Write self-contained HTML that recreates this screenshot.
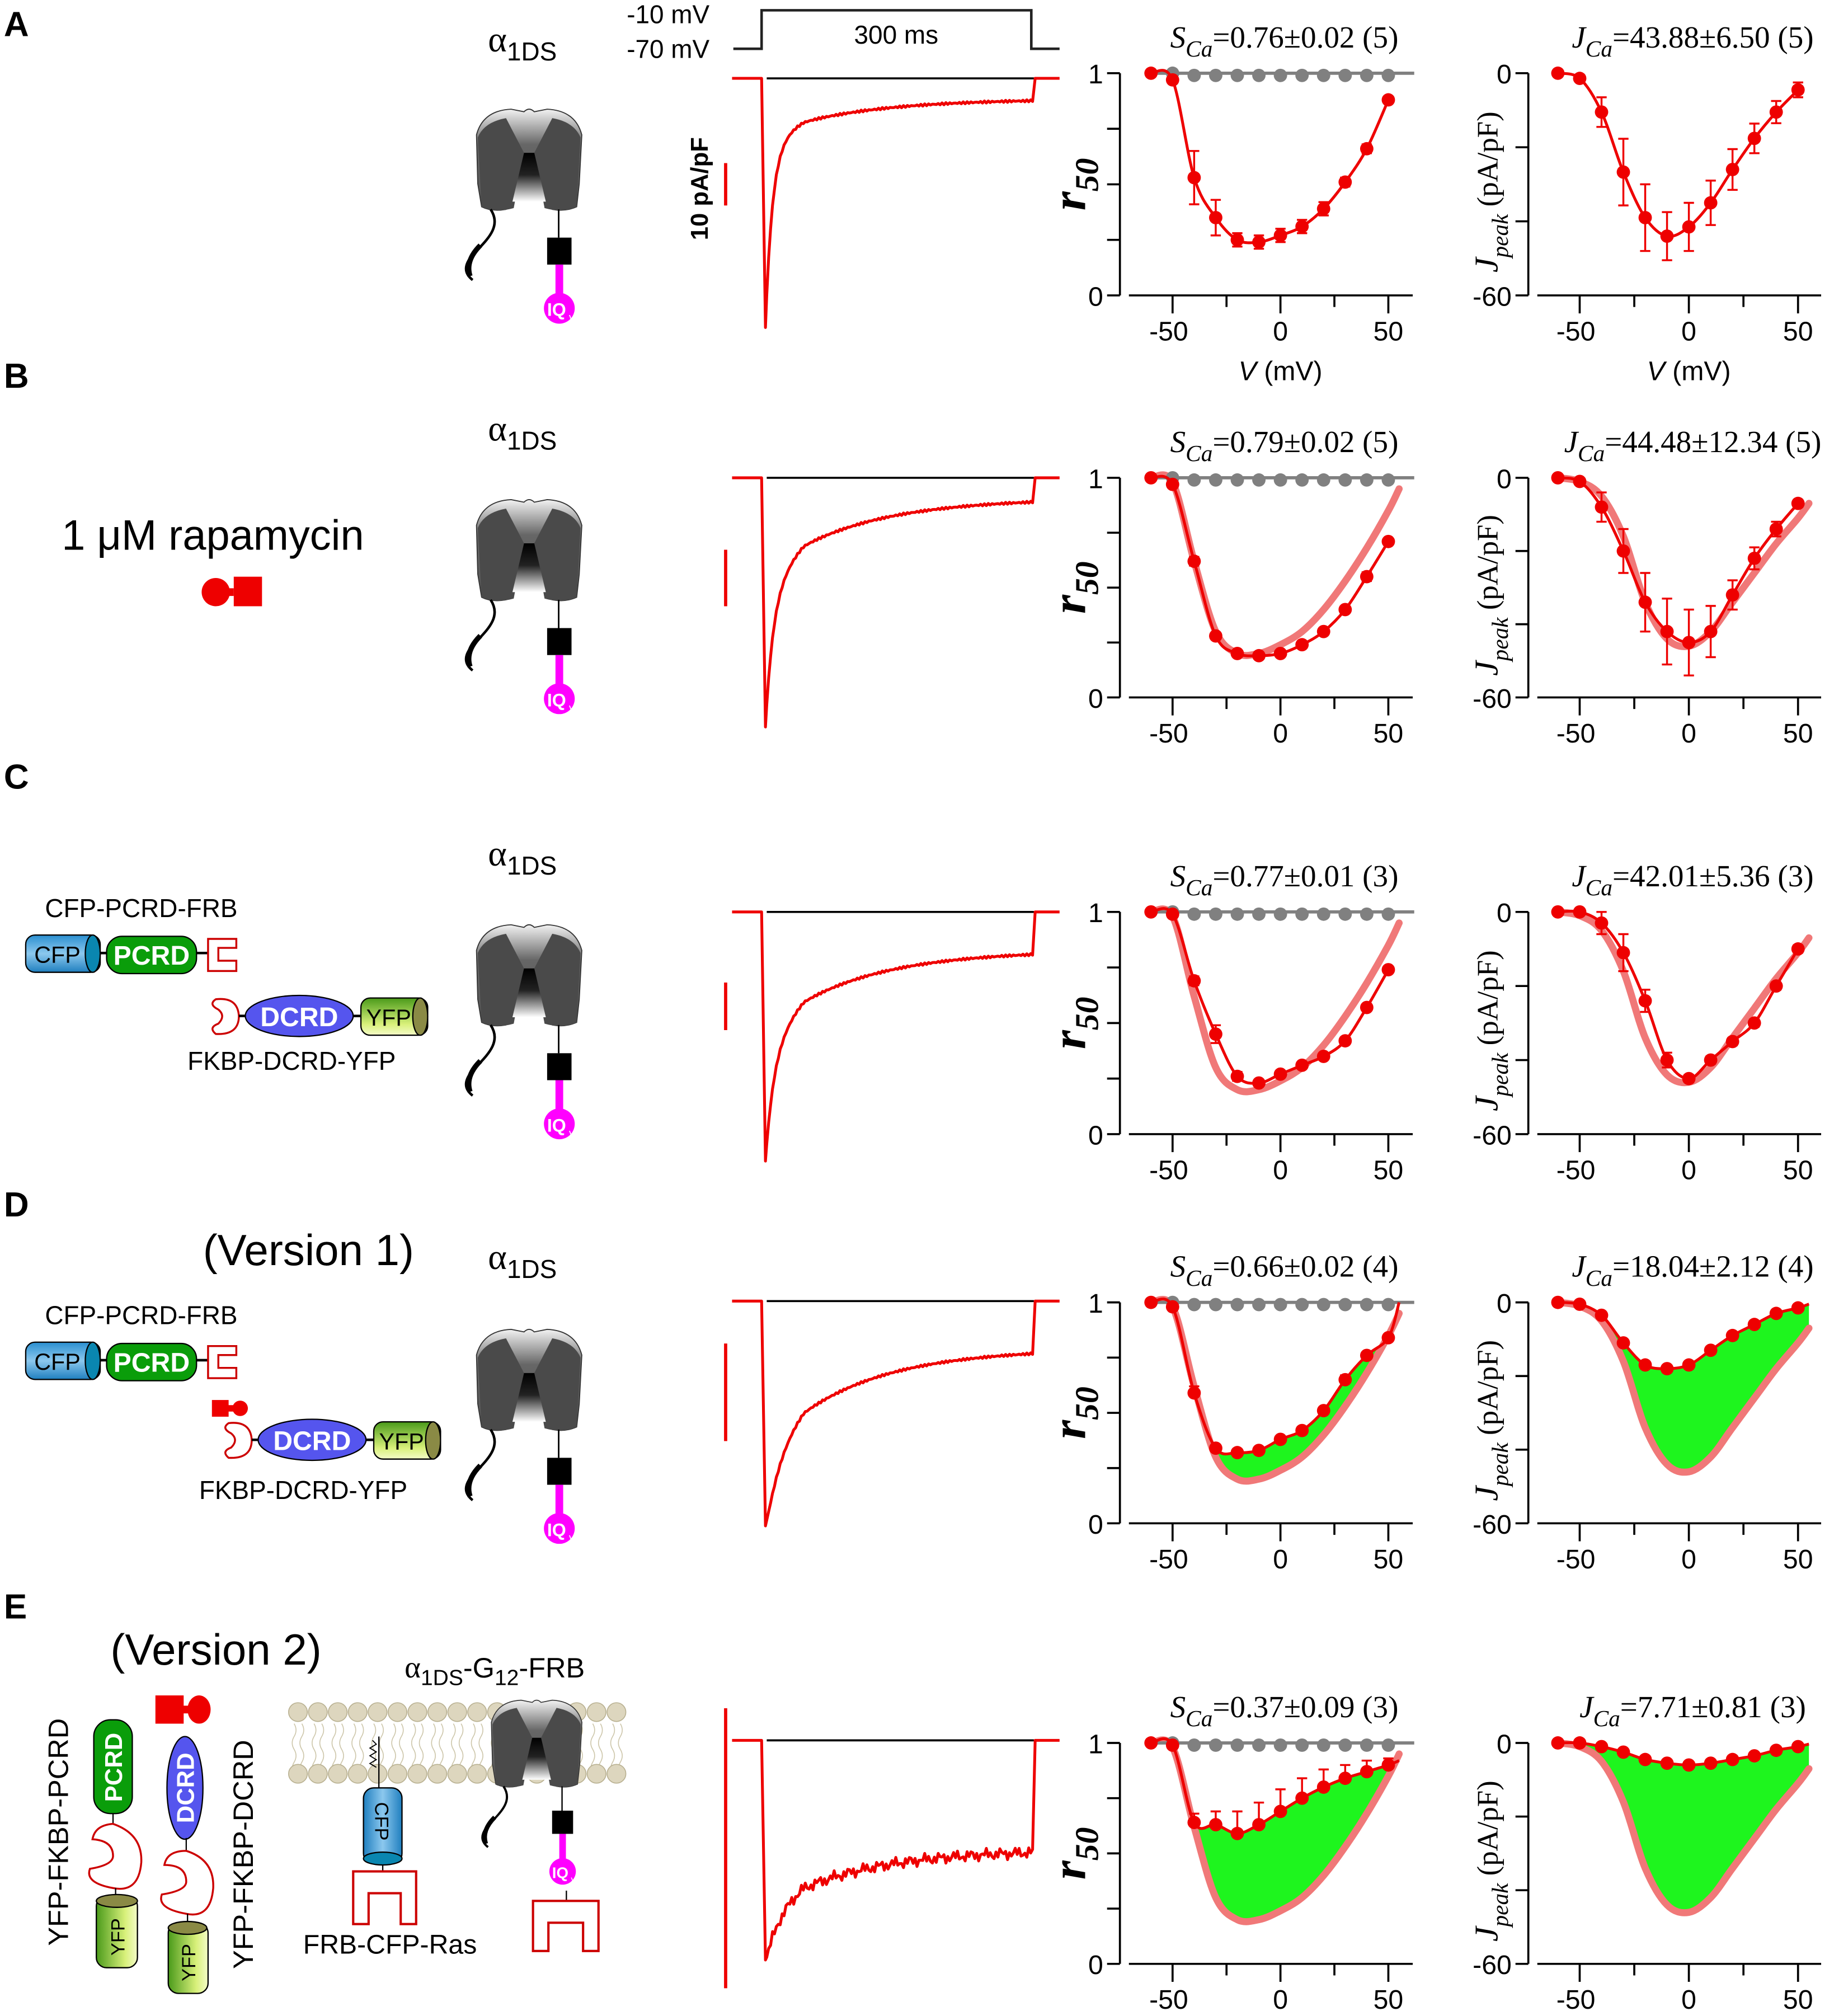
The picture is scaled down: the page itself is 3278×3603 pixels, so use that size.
<!DOCTYPE html>
<html><head><meta charset="utf-8">
<style>
html,body{margin:0;padding:0;background:#fff;}
svg{display:block;}
text{font-family:"Liberation Sans",sans-serif;}
.serif{font-family:"Liberation Serif",serif;}
</style></head>
<body>
<svg id="fig" xmlns="http://www.w3.org/2000/svg" width="3278" height="3603" viewBox="0 0 1428 1569.6">
<defs>
<linearGradient id="chTop" x1="0" y1="0" x2="0" y2="1"><stop offset="0" stop-color="#f2f2f2"/><stop offset="0.35" stop-color="#666"/><stop offset="1" stop-color="#555"/></linearGradient>
<linearGradient id="pore" x1="0" y1="0" x2="0" y2="1"><stop offset="0" stop-color="#000"/><stop offset="0.45" stop-color="#222"/><stop offset="1" stop-color="#fff"/></linearGradient>
<linearGradient id="cfpG" x1="0" y1="0" x2="0" y2="1"><stop offset="0" stop-color="#2a8fd0"/><stop offset="0.5" stop-color="#8cc8ee"/><stop offset="1" stop-color="#1f7fbf"/></linearGradient>
<linearGradient id="yfpG" x1="0" y1="0" x2="0" y2="1"><stop offset="0" stop-color="#4a9a1a"/><stop offset="0.7" stop-color="#d8f07a"/><stop offset="1" stop-color="#f4fbc8"/></linearGradient>
<linearGradient id="yfpGv" x1="0" y1="0" x2="1" y2="0"><stop offset="0" stop-color="#4a9a1a"/><stop offset="0.7" stop-color="#d8f07a"/><stop offset="1" stop-color="#f4fbc8"/></linearGradient>
<linearGradient id="cfpGv" x1="0" y1="0" x2="1" y2="0"><stop offset="0" stop-color="#1f7fbf"/><stop offset="0.5" stop-color="#8cc8ee"/><stop offset="1" stop-color="#1f7fbf"/></linearGradient>
</defs>
<g id="root"></g>
</svg>
<script>
// ---------------- DATA ----------------
const volts = [-60,-50,-40,-30,-20,-10,0,10,20,30,40,50];
const rowNames = ['A','B','C','D','E'];
const r50A = [1,0.97,0.53,0.35,0.25,0.24,0.27,0.31,0.39,0.51,0.66,0.88];
const r50B = [1,0.97,0.62,0.28,0.2,0.19,0.2,0.24,0.3,0.4,0.55,0.71];
const r50C = [1,0.99,0.69,0.45,0.26,0.23,0.27,0.31,0.35,0.42,0.57,0.74];
const r50D = [1,0.98,0.59,0.34,0.32,0.33,0.38,0.42,0.51,0.65,0.76,0.84];
const r50E = [1,0.99,0.64,0.63,0.59,0.63,0.69,0.75,0.8,0.84,0.87,0.9];
const r50ErrA = [0,0.01,0.12,0.08,0.03,0.03,0.03,0.03,0.03,0.02,0.02,0.01];
const r50ErrB = [0,0.01,0.02,0.01,0.01,0.01,0.01,0.01,0.01,0.01,0.02,0.01];
const r50ErrC = [0,0.01,0.02,0.04,0.02,0.01,0.01,0.01,0.01,0.01,0.01,0.01];
const r50ErrD = [0,0.01,0.03,0.01,0.01,0.01,0.01,0.01,0.01,0.02,0.01,0.01];
const r50ErrE = [0,0.01,0.04,0.06,0.1,0.1,0.1,0.09,0.08,0.06,0.05,0.03];
const grayR50 = [1,1,0.99,0.99,0.99,0.99,0.99,0.99,0.99,0.99,0.99,0.99];
const jA = [0,-1.4,-10.5,-26.7,-39,-44,-41.5,-35,-26,-17.6,-10.5,-4.5];
const jB = [0,-1,-8,-20,-34,-42,-45,-42,-32,-22,-14,-7];
const jC = [0,0,-3,-11,-24,-40,-45,-40,-35,-30,-20,-10];
const jD = [0,-0.5,-3.5,-11,-17,-18,-17,-13,-9,-6,-3,-1.5];
const jE = [0,0,-1,-2.5,-4.5,-5.5,-6,-5.5,-4.5,-3.5,-2,-1];
const jErrA = [0,0.5,4,9,9,6.5,6.5,6,5.5,4,3,2];
const jErrB = [0,0.5,4,6,8,9,9,7,4,3,2,1];
const jErrC = [0,0.5,3,5,3,2,1,1,1,1,1,1];
const jErrD = [0,0.5,0.5,0.5,1,1,1,1,1,0.5,0.5,0.5];
const jErrE = [0,0,0.3,0.5,0.5,0.5,0.5,0.5,0.5,0.5,0.5,0.5];
const refVolts = [-60,-50,-40,-30,-20,-10,0,10,20,30,40,50,55];
const refR50 = [1,0.98,0.62,0.3,0.2,0.2,0.24,0.3,0.4,0.53,0.68,0.85,0.95];
const refJ = [0,-1,-5,-16,-34,-44,-46,-42,-34,-26,-18,-11,-7];
const titlesS = ['0.76±0.02 (5)','0.79±0.02 (5)','0.77±0.01 (3)','0.66±0.02 (4)','0.37±0.09 (3)'];
const titlesJ = ['43.88±6.50 (5)','44.48±12.34 (5)','42.01±5.36 (3)','18.04±2.12 (4)','7.71±0.81 (3)'];
const xTickLabels = ['-50','0','50'];
const xTicks = [-50,-25,0,25,50];
// ------------------------------------------------
const NS='http://www.w3.org/2000/svg';
const root=document.getElementById('root');
function el(tag,attrs,parent,txt){const e=document.createElementNS(NS,tag);for(const k in attrs)e.setAttribute(k,attrs[k]);if(txt!==undefined)e.textContent=txt;(parent||root).appendChild(e);return e;}
function smooth(pts){
  let d='M'+pts[0][0].toFixed(1)+','+pts[0][1].toFixed(1);
  for(let i=0;i<pts.length-1;i++){const p0=pts[Math.max(0,i-1)],p1=pts[i],p2=pts[i+1],p3=pts[Math.min(pts.length-1,i+2)];
    const c1=[p1[0]+(p2[0]-p0[0])/6,p1[1]+(p2[1]-p0[1])/6],c2=[p2[0]-(p3[0]-p1[0])/6,p2[1]-(p3[1]-p1[1])/6];
    d+=' C'+c1[0].toFixed(1)+','+c1[1].toFixed(1)+' '+c2[0].toFixed(1)+','+c2[1].toFixed(1)+' '+p2[0].toFixed(1)+','+p2[1].toFixed(1);}
  return d;}
function sampleSmooth(pts,n){const out=[];for(let i=0;i<pts.length-1;i++){const p0=pts[Math.max(0,i-1)],p1=pts[i],p2=pts[i+1],p3=pts[Math.min(pts.length-1,i+2)];
  for(let k=0;k<n;k++){const t=k/n,t2=t*t,t3=t2*t;out.push([0,1].map(j=>0.5*((2*p1[j])+(-p0[j]+p2[j])*t+(2*p0[j]-5*p1[j]+4*p2[j]-p3[j])*t2+(-p0[j]+3*p1[j]-3*p2[j]+p3[j])*t3)));}}
  out.push(pts[pts.length-1]);return out;}

const rowTops=[57,372,710,1014,1357], rowBots=[230,543,883,1186,1529];
const r50s=[r50A,r50B,r50C,r50D,r50E], r50Errs=[r50ErrA,r50ErrB,r50ErrC,r50ErrD,r50ErrE];
const js=[jA,jB,jC,jD,jE], jErrs=[jErrA,jErrB,jErrC,jErrD,jErrE];
const extR=[null,null,null,[55,1.0],[55,0.92]];
const extJ=[null,null,null,[55,0],[55,0]];

function xR(v){return 913+(v+50)*1.68;}
function xJ(v){return 1230+(v+50)*1.7;}

function drawChart(i,kind){
  const top=rowTops[i],bot=rowBots[i];
  const g=el('g',{});
  const isR=kind==='r';
  
  
  const X=isR?xR:xJ, axX=isR?872:1190;
  const Y=isR?(r=>bot-r*(bot-top)):(j=>top+(-j)/60*(bot-top));
  const ya=el('line',{x1:axX,y1:top,x2:axX,y2:bot,stroke:'#000','stroke-width':1.6},g);
  
  const nT=isR?4:3;
  for(let k=0;k<=nT;k++){const yy=top+k*(bot-top)/nT;el('line',{x1:axX-10,y1:yy,x2:axX,y2:yy,stroke:'#000','stroke-width':1.6},g);}
  const yl1=el('text',{x:axX-13,y:top+8,'font-size':21,'text-anchor':'end'},g,isR?'1':'0');
  
  const yl0=el('text',{x:axX-13,y:bot+8,'font-size':21,'text-anchor':'end'},g,isR?'0':'-60');
  
  const xa=el('line',{x1:axX+7,y1:bot,x2:axX+228,y2:bot,stroke:'#000','stroke-width':1.6},g);
  
  xTicks.forEach(t=>{const L=(t%50===0)?14:9;el('line',{x1:X(t),y1:bot,x2:X(t),y2:bot+L,stroke:'#000','stroke-width':1.6},g);});
  xTickLabels.forEach(s=>{const t=el('text',{x:X(+s)-(s==='-50'?3:0),y:bot+35,'font-size':21,'text-anchor':'middle'},g,s);
    });
  if(i===0){const xt=el('text',{x:X(0),y:bot+66,'font-size':21,'text-anchor':'middle'},g);
    
    el('tspan',{'font-style':'italic'},xt,'V');el('tspan',{},xt,' (mV)');}
  const cy=(top+bot)/2;
  if(isR){const yt=el('text',{x:0,y:0,'font-size':38,'font-style':'italic','font-weight':'bold','class':'serif',transform:`translate(845,${cy}) rotate(-90)`,'text-anchor':'middle'},g);
    
    el('tspan',{},yt,'r');el('tspan',{'font-size':26,dy:10},yt,'50');}
  else{const yt=el('text',{x:0,y:0,'font-size':23,'class':'serif',transform:`translate(1166,${cy+6}) rotate(-90)`,'text-anchor':'middle'},g);
    
    el('tspan',{'font-style':'italic','font-size':26},yt,'J');el('tspan',{'font-style':'italic','font-size':18,dy:8},yt,'peak');el('tspan',{dy:-8},yt,' (pA/pF)');}
  const tt=el('text',{x:isR?1000:1318,y:top-20,'font-size':24,'class':'serif','text-anchor':'middle'},g);
  
  el('tspan',{'font-style':'italic'},tt,isR?'S':'J');el('tspan',{'font-style':'italic','font-size':18,dy:7},tt,'Ca');el('tspan',{dy:-7},tt,'='+(isR?titlesS[i]:titlesJ[i]));
  const vals=isR?r50s[i]:js[i], errs=isR?r50Errs[i]:jErrs[i];
  const ref=isR?refR50:refJ;
  let fitPts=volts.map((v,k)=>[X(v),Y(vals[k])]);
  const ext=isR?extR[i]:extJ[i];
  if(ext) fitPts.push([X(ext[0]),Y(ext[1]===0&&!isR?vals[11]*0.3:ext[1])]);
  const refPts=refVolts.map((v,k)=>[X(v),Y(ref[k])]);
  if(i===3||i===4){const a=sampleSmooth(fitPts,10),b=sampleSmooth(refPts,10).reverse();
    const poly=el('path',{d:'M'+a.concat(b).map(p=>p[0].toFixed(1)+','+p[1].toFixed(1)).join(' L')+'Z',fill:'#1ef51e',stroke:'none'},g);
    }
  if(i>0){const rp=el('path',{d:smooth(refPts),fill:'none',stroke:'#f07878','stroke-width':5.5,'stroke-linecap':'round'},g);
    }
  if(isR){const gl=el('line',{x1:X(-60),y1:Y(1),x2:X(62),y2:Y(1),stroke:'#808080','stroke-width':2.5},g);
    
    volts.forEach((v,k)=>{if(k===0)return;const c=el('circle',{cx:X(v),cy:Y(grayR50[k]),r:5.2,fill:'#808080'},g);
      });}
  const fp=el('path',{d:smooth(fitPts),fill:'none',stroke:'#e00','stroke-width':2.2},g);
  
  volts.forEach((v,k)=>{const x=X(v);
    if(errs[k]>0){const y1=Y(vals[k]-(isR?errs[k]:-errs[k])),y2=Y(vals[k]+(isR?errs[k]:-errs[k]));
      const up=(i>=3)?Y(vals[k]):y1;
      el('line',{x1:x,y1:up,x2:x,y2:y2,stroke:'#e00','stroke-width':1.5},g);
      el('line',{x1:x-4,y1:y2,x2:x+4,y2:y2,stroke:'#e00','stroke-width':1.5},g);
      if(i<3)el('line',{x1:x-4,y1:y1,x2:x+4,y2:y1,stroke:'#e00','stroke-width':1.5},g);}
    const c=el('circle',{cx:x,cy:Y(vals[k]),r:5.2,fill:'#e00'},g);
    });
}
for(let i=0;i<5;i++){drawChart(i,'r');drawChart(i,'j');}

// ---------- current traces ----------
const traceBase=[61,372,710,1013,1355], tracePeak=[255,566,904,1188,1526], traceMid=[95,425,780,1100,1470], traceEnd=[77,388,740,1050,1440];
const scaleBars=[[127,160],[428,472],[765,802],[1046,1122],[1330,1548]];
for(let i=0;i<5;i++){
  const g=el('g',{});
  const b=traceBase[i],pk=tracePeak[i],md=traceMid[i],en=traceEnd[i];
  el('line',{x1:597,y1:b,x2:805,y2:b,stroke:'#000','stroke-width':1.6},g);
  let d='M570,'+b+' L593,'+b+' L596,'+pk;
  const dPk=pk-b,dMd=md-b,dEn=en-b;
  for(let x=597;x<=805;x+=1.5){const t=x-596;
    let dep=dEn+(dMd-dEn)*Math.exp(-(t-30)/70)*(t>30?1:Math.exp((30-t)/70));
    const fast=(dPk-dep)*Math.exp(-t/5);
    let y=b+dep+fast;
    if(i===4)y+=Math.sin(x*1.7)*3+Math.sin(x*0.53)*2;
    else y+=Math.sin(x*1.9)*0.8;
    d+=' L'+x.toFixed(1)+','+y.toFixed(1);}
  d+=' L806,'+b+' L825,'+b;
  el('path',{d:d,fill:'none',stroke:'#e00','stroke-width':2.2,'stroke-linejoin':'round'},g);
  const sb=el('line',{x1:565,y1:scaleBars[i][0],x2:565,y2:scaleBars[i][1],stroke:'#e00','stroke-width':2.5},root);
  
}
{const g=el('g',{});
 el('path',{d:'M571,38 L593,38 L593,8 L803,8 L803,38 L825,38',fill:'none',stroke:'#222','stroke-width':2},g);
 el('text',{x:488,y:18,'font-size':20},g,'-10 mV');el('text',{x:488,y:45,'font-size':20},g,'-70 mV');
 el('text',{x:665,y:34,'font-size':20},g,'300 ms');
 const sl=el('text',{x:0,y:0,'font-size':19,'font-weight':'bold',transform:'translate(551,187) rotate(-90)'},root,'10 pA/pF');
 }

const letterY=[28,302,614,947,1260];
letterY.forEach((y,i)=>{const t=el('text',{x:3,y:y,'font-size':27,'font-weight':'bold'},root,rowNames[i]);
  });

function channel(x0,y0,s,name){
  const g=el('g',{transform:`translate(${x0},${y0}) scale(${s})`});
  
  el('path',{d:'M3,22 Q8,3 30,2 L40,4 Q44,0 48,4 L58,2 Q80,3 85,22 L83,60 L81,78 Q72,82 62,80 L56,72 L32,72 L26,80 Q15,82 7,78 L4,60 Z',fill:'url(#chTop)',stroke:'#333','stroke-width':0.8},g);
  el('path',{d:'M4,24 Q9,12 26,9 L40,36 L32,79 Q18,83 7,78 Z',fill:'#4a4a4a'},g);
  el('path',{d:'M84,24 Q79,12 62,9 L48,36 L56,79 Q70,83 81,78 Z',fill:'#4a4a4a'},g);
  el('path',{d:'M40,36 L48,36 L57,74 L31,74 Z',fill:'url(#pore)'},g);
  el('path',{d:'M14,80 C24,95 8,106 -2,118 Q-9,128 0,135',fill:'none',stroke:'#000','stroke-width':2},g);
  el('path',{d:'M6,108 Q-6,120 -2,132',fill:'none',stroke:'#000','stroke-width':4},g);
  el('line',{x1:67,y1:80,x2:67,y2:102,stroke:'#000','stroke-width':1.2},g);
  el('rect',{x:58,y:102,width:19,height:21,fill:'#000'},g);
  el('line',{x1:67.5,y1:123,x2:67.5,y2:150,stroke:'#f0f','stroke-width':6},g);
  el('circle',{cx:67.5,cy:157,r:12,fill:'#f0f'},g);
  el('text',{x:58,y:163,'font-size':14,'font-weight':'bold',fill:'#fff'},g,'IQ');
  el('text',{x:75,y:168,'font-size':8,fill:'#fff'},g,'V');
  return g;}
const chanTops=[83,387,718,1033];
chanTops.forEach((y,i)=>channel(368,y,1,'channel-icon-'+rowNames[i]));
const alphaY=[40,343,674,988];
alphaY.forEach((y,i)=>{const t=el('text',{x:380,y:y,'font-size':24},root);
  
  el('tspan',{'class':'serif','font-size':28},t,'α');el('tspan',{dy:7,'font-size':20},t,'1DS');});

{const t=el('text',{x:48,y:428,'font-size':33},root,'1 μM rapamycin');
 const g=el('g',{});
 el('circle',{cx:168,cy:461,r:11,fill:'#e00'},g);el('rect',{x:176,y:458,width:6,height:6,fill:'#e00'},g);el('rect',{x:182,y:449,width:22,height:23,fill:'#e00'},g);}

function cylH(g,x,y,w,h,fill,capFill,label,lblColor){
  el('rect',{x:x,y:y,width:w,height:h,rx:h*0.25,fill:fill,stroke:'#000','stroke-width':1},g);
  el('ellipse',{cx:x+w-h*0.2,cy:y+h/2,rx:h*0.2,ry:h/2,fill:capFill,stroke:'#000','stroke-width':1},g);
  el('text',{x:x+(w-h*0.3)/2,y:y+h/2+7,'font-size':18,'text-anchor':'middle',fill:lblColor||'#000'},g,label);}
function constructs(dy,extra){
  const g=el('g',{transform:`translate(0,${dy})`});
  
  el('text',{x:35,y:714,'font-size':20},g,'CFP-PCRD-FRB');
  cylH(g,20,728,58,29,'url(#cfpG)','#0a86b0','CFP');
  el('line',{x1:78,y1:742,x2:84,y2:742,stroke:'#000','stroke-width':2},g);
  el('rect',{x:83,y:729,width:70,height:29,rx:12,fill:'#0a9d0a',stroke:'#000','stroke-width':1},g);
  el('text',{x:118,y:751,'font-size':21,'font-weight':'bold','text-anchor':'middle',fill:'#fff'},g,'PCRD');
  el('line',{x1:153,y1:742,x2:162,y2:742,stroke:'#000','stroke-width':2},g);
  el('path',{d:'M162,731 L184,731 L184,738 L170,738 L170,748 L184,748 L184,756 L162,756 Z',fill:'#fff',stroke:'#c00','stroke-width':1.5},g);
  const o=extra?10:0, oy=extra?13:0;
  el('path',{d:`M${168+o},${778+oy} Q${185+o},${776+oy} ${186+o},${791+oy} Q${186+o},${806+oy} ${168+o},${805+oy} Q${162+o},${800+oy} ${170+o},${797+oy} Q${176+o},${791+oy} ${170+o},${786+oy} Q${162+o},${782+oy} ${168+o},${778+oy}Z`,fill:'#fff',stroke:'#c00','stroke-width':1.5},g);
  el('line',{x1:186+o,y1:791+oy,x2:193+o,y2:791+oy,stroke:'#000','stroke-width':2},g);
  el('ellipse',{cx:233+o,cy:791+oy,rx:42,ry:16,fill:'#5555ee',stroke:'#000','stroke-width':1},g);
  el('text',{x:233+o,y:799+oy,'font-size':21,'font-weight':'bold','text-anchor':'middle',fill:'#fff'},g,'DCRD');
  el('line',{x1:275+o,y1:791+oy,x2:281+o,y2:791+oy,stroke:'#000','stroke-width':2},g);
  cylH(g,281+o,777+oy,52,29,'url(#yfpG)','#8a8a45','YFP');
  el('text',{x:146+(extra?9:0),y:833+oy+(extra?4:0),'font-size':20},g,'FKBP-DCRD-YFP');
  if(extra){el('rect',{x:165,y:773,width:13,height:13,fill:'#e00'},g);el('rect',{x:177,y:777,width:6,height:5,fill:'#e00'},g);el('circle',{cx:187,cy:779.5,r:6,fill:'#e00'},g);}
}
constructs(0,false);
constructs(317,true);
{const t=el('text',{x:158,y:985,'font-size':34},root,'(Version 1)');}

{const t=el('text',{x:86,y:1296,'font-size':34},root,'(Version 2)');
 const g=el('g',{});
 el('text',{x:0,y:0,'font-size':22,transform:'translate(53,1515) rotate(-90)'},g,'YFP-FKBP-PCRD');
 el('text',{x:0,y:0,'font-size':22,transform:'translate(197,1533) rotate(-90)'},g,'YFP-FKBP-DCRD');
 el('rect',{x:73,y:1339,width:30,height:73,rx:13,fill:'#0a9d0a',stroke:'#000','stroke-width':1},g);
 el('text',{x:0,y:0,'font-size':19,'font-weight':'bold',fill:'#fff','text-anchor':'middle',transform:'translate(95,1376) rotate(-90)'},g,'PCRD');
 el('line',{x1:88,y1:1412,x2:88,y2:1420,stroke:'#000','stroke-width':1},g);
 el('path',{d:'M88,1420 Q111,1428 110,1450 Q108,1474 88,1470 Q66,1466 70,1455 Q88,1452 88,1445 Q88,1433 72,1432 Q74,1421 88,1420Z',fill:'#fff',stroke:'#c00','stroke-width':1.5},g);
 el('line',{x1:90,y1:1470,x2:90,y2:1478,stroke:'#000','stroke-width':1},g);
 el('rect',{x:75,y:1476,width:32,height:56,rx:8,fill:'url(#yfpGv)',stroke:'#000','stroke-width':1},g);
 el('ellipse',{cx:91,cy:1480,rx:16,ry:5,fill:'#8a8a45',stroke:'#000','stroke-width':1},g);
 el('text',{x:0,y:0,'font-size':15,'text-anchor':'middle',transform:'translate(97,1508) rotate(-90)'},g,'YFP');
 el('rect',{x:121,y:1320,width:22,height:22,fill:'#e00'},g);el('rect',{x:142,y:1328,width:8,height:6,fill:'#e00'},g);el('ellipse',{cx:155,cy:1331,rx:9,ry:11,fill:'#e00'},g);
 el('ellipse',{cx:144,cy:1392,rx:14,ry:40,fill:'#5555ee',stroke:'#000','stroke-width':1},g);
 el('text',{x:0,y:0,'font-size':19,'font-weight':'bold',fill:'#fff','text-anchor':'middle',transform:'translate(151,1392) rotate(-90)'},g,'DCRD');
 el('line',{x1:145,y1:1431,x2:145,y2:1441,stroke:'#000','stroke-width':1},g);
 el('path',{d:'M145,1441 Q167,1448 166,1470 Q164,1494 145,1490 Q122,1486 126,1475 Q145,1472 145,1465 Q145,1452 128,1452 Q130,1441 145,1441Z',fill:'#fff',stroke:'#c00','stroke-width':1.5},g);
 el('line',{x1:146,y1:1490,x2:146,y2:1499,stroke:'#000','stroke-width':1},g);
 el('rect',{x:131,y:1497,width:31,height:55,rx:8,fill:'url(#yfpGv)',stroke:'#000','stroke-width':1},g);
 el('ellipse',{cx:146,cy:1501,rx:15,ry:5,fill:'#8a8a45',stroke:'#000','stroke-width':1},g);
 el('text',{x:0,y:0,'font-size':15,'text-anchor':'middle',transform:'translate(152,1528) rotate(-90)'},g,'YFP');
 const m=el('g',{},g);
 for(let x=232;x<=486;x+=15.5){
   el('path',{d:`M${x-3},1342 q3,5 0,10 q-3,5 0,10 M${x+3},1342 q3,5 0,10 q-3,5 0,10 M${x-3},1362 q3,5 0,10 q-3,5 0,10 M${x+3},1362 q3,5 0,10 q-3,5 0,10`,fill:'none',stroke:'#cdc6aa','stroke-width':0.7},m);
   el('circle',{cx:x,cy:1333,r:7.3,fill:'#ddd6be',stroke:'#b8b090','stroke-width':0.7},m);
   el('circle',{cx:x,cy:1381,r:7.3,fill:'#ddd6be',stroke:'#b8b090','stroke-width':0.7},m);}
 el('path',{d:'M290,1355 l3,3 l-5,3 l5,3 l-5,3 l5,3 l-5,3 l5,3',fill:'none',stroke:'#000','stroke-width':0.8},g);
 el('line',{x1:295,y1:1352,x2:295,y2:1392,stroke:'#000','stroke-width':1},g);
 el('rect',{x:283,y:1392,width:30,height:59,rx:8,fill:'url(#cfpGv)',stroke:'#000','stroke-width':1},g);
 el('ellipse',{cx:298,cy:1447,rx:15,ry:5,fill:'#0a86b0',stroke:'#000','stroke-width':1},g);
 el('text',{x:0,y:0,'font-size':15,'text-anchor':'middle',transform:'translate(292,1418) rotate(90)'},g,'CFP');
 el('line',{x1:298,y1:1452,x2:298,y2:1458,stroke:'#000','stroke-width':1},g);
 el('path',{d:'M275,1498 L275,1457 L324,1457 L324,1498 L312,1498 L312,1474 L287,1474 L287,1498 Z',fill:'#fff',stroke:'#c00','stroke-width':1.8},g);
 el('text',{x:236,y:1521,'font-size':21},g,'FRB-CFP-Ras');
 channel(380,1322,0.86,'channel-icon-E');
 el('path',{d:'M441,1472 L441,1480',stroke:'#000','stroke-width':1},g);
 el('path',{d:'M415,1519 L415,1480 L466,1480 L466,1519 L454,1519 L454,1497 L427,1497 L427,1519 Z',fill:'#fff',stroke:'#c00','stroke-width':1.8},g);
 const lab=el('text',{x:315,y:1306,'font-size':22},g);
 el('tspan',{'class':'serif','font-size':24},lab,'α');el('tspan',{dy:6,'font-size':17},lab,'1DS');el('tspan',{dy:-6},lab,'-G');el('tspan',{dy:6,'font-size':17},lab,'12');el('tspan',{dy:-6},lab,'-FRB');}
</script>
</body></html>
